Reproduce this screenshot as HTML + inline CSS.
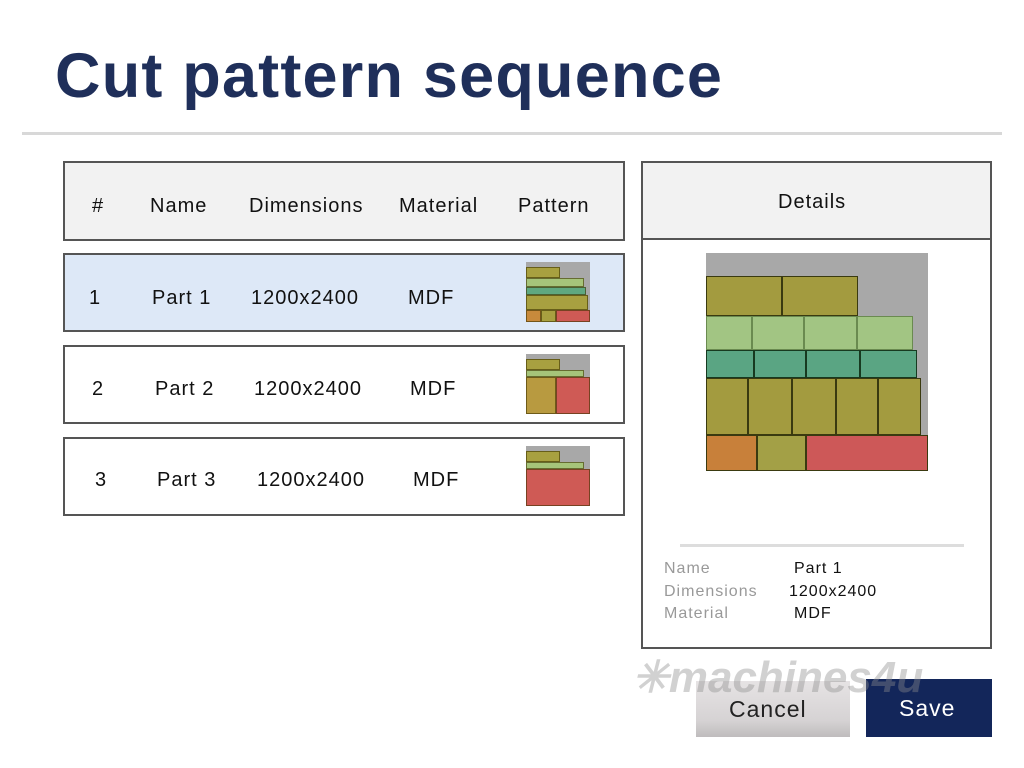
<!DOCTYPE html>
<html><head><meta charset="utf-8"><style>
*{margin:0;padding:0;box-sizing:border-box}
body{width:1024px;height:768px;background:#fff;position:relative;overflow:hidden;font-family:"Liberation Sans",Arial,sans-serif;color:#111}
.a{position:absolute}
.t{position:absolute;font-size:20px;letter-spacing:1px;white-space:nowrap;line-height:1}
.box{position:absolute;border:2px solid #555}
.th{position:absolute;background:#a8a8a8;overflow:hidden}
.th div{position:absolute;border:1px solid rgba(60,50,0,.6)}
.p div{position:absolute;border:1.5px solid #3a3a10}
.lb{position:absolute;font-size:16px;letter-spacing:1px;color:#999;line-height:1}
.vl{position:absolute;font-size:16px;letter-spacing:1px;color:#111;line-height:1}
</style></head><body>
<div class="a" style="left:55px;top:45px;font-size:63px;font-weight:bold;color:#1f2f5a;line-height:1;letter-spacing:1.2px">Cut pattern sequence</div>
<div class="a" style="left:22px;top:132px;width:980px;height:3px;background:#d8d8d8"></div>

<div class="box" style="left:63px;top:161px;width:562px;height:80px;background:#f2f2f2"></div>
<div class="t" style="left:92px;top:196px">#</div>
<div class="t" style="left:150px;top:196px">Name</div>
<div class="t" style="left:249px;top:196px">Dimensions</div>
<div class="t" style="left:399px;top:196px">Material</div>
<div class="t" style="left:518px;top:196px">Pattern</div>

<div class="box" style="left:63px;top:253px;width:562px;height:79px;background:#dde8f7"></div>
<div class="t" style="left:89px;top:288px">1</div>
<div class="t" style="left:152px;top:288px">Part 1</div>
<div class="t" style="left:251px;top:288px">1200x2400</div>
<div class="t" style="left:408px;top:288px">MDF</div>

<div class="box" style="left:63px;top:345px;width:562px;height:79px;background:#fff"></div>
<div class="t" style="left:92px;top:379px">2</div>
<div class="t" style="left:155px;top:379px">Part 2</div>
<div class="t" style="left:254px;top:379px">1200x2400</div>
<div class="t" style="left:410px;top:379px">MDF</div>

<div class="box" style="left:63px;top:437px;width:562px;height:79px;background:#fff"></div>
<div class="t" style="left:95px;top:470px">3</div>
<div class="t" style="left:157px;top:470px">Part 3</div>
<div class="t" style="left:257px;top:470px">1200x2400</div>
<div class="t" style="left:413px;top:470px">MDF</div>

<!-- thumbnails -->
<div class="th" style="left:526px;top:262px;width:64px;height:60px">
<div style="left:0;top:5px;width:34px;height:11px;background:#a8a040"></div>
<div style="left:0;top:16px;width:58px;height:9px;background:#a6c47a"></div>
<div style="left:0;top:25px;width:60px;height:8px;background:#5fa880"></div>
<div style="left:0;top:33px;width:62px;height:15px;background:#a8a040"></div>
<div style="left:0;top:48px;width:15px;height:12px;background:#c88a3c"></div>
<div style="left:15px;top:48px;width:15px;height:12px;background:#a8a040"></div>
<div style="left:30px;top:48px;width:34px;height:12px;background:#cf5a55"></div>
</div>
<div class="th" style="left:526px;top:354px;width:64px;height:60px">
<div style="left:0;top:5px;width:34px;height:11px;background:#a8a040"></div>
<div style="left:0;top:16px;width:58px;height:7px;background:#a6c47a"></div>
<div style="left:0;top:23px;width:30px;height:37px;background:#b89a40"></div>
<div style="left:30px;top:23px;width:34px;height:37px;background:#cf5a55"></div>
</div>
<div class="th" style="left:526px;top:446px;width:64px;height:60px">
<div style="left:0;top:5px;width:34px;height:11px;background:#a8a040"></div>
<div style="left:0;top:16px;width:58px;height:7px;background:#a6c47a"></div>
<div style="left:0;top:23px;width:64px;height:37px;background:#cf5a55"></div>
</div>

<!-- details -->
<div class="box" style="left:641px;top:161px;width:351px;height:488px;background:#fff"></div>
<div class="a" style="left:643px;top:163px;width:347px;height:77px;background:#f2f2f2;border-bottom:2px solid #555"></div>
<div class="t" style="left:778px;top:192px">Details</div>

<div class="th p" style="left:706px;top:253px;width:222px;height:218px">
<div style="left:0;top:23px;width:76px;height:40px;background:#a39b3f"></div>
<div style="left:76px;top:23px;width:76px;height:40px;background:#a39b3f"></div>
<div style="left:0;top:63px;width:46px;height:34px;background:#a2c583;border-color:#6a8a50"></div>
<div style="left:46px;top:63px;width:52px;height:34px;background:#a2c583;border-color:#6a8a50"></div>
<div style="left:98px;top:63px;width:53px;height:34px;background:#a2c583;border-color:#6a8a50"></div>
<div style="left:151px;top:63px;width:56px;height:34px;background:#a2c583;border-color:#6a8a50"></div>
<div style="left:0;top:97px;width:48px;height:28px;background:#5aa583;border-color:#173a20"></div>
<div style="left:48px;top:97px;width:52px;height:28px;background:#5aa583;border-color:#173a20"></div>
<div style="left:100px;top:97px;width:54px;height:28px;background:#5aa583;border-color:#173a20"></div>
<div style="left:154px;top:97px;width:57px;height:28px;background:#5aa583;border-color:#173a20"></div>
<div style="left:0;top:125px;width:42px;height:57px;background:#a39b3f"></div>
<div style="left:42px;top:125px;width:44px;height:57px;background:#a39b3f"></div>
<div style="left:86px;top:125px;width:44px;height:57px;background:#a39b3f"></div>
<div style="left:130px;top:125px;width:42px;height:57px;background:#a39b3f"></div>
<div style="left:172px;top:125px;width:43px;height:57px;background:#a39b3f"></div>
<div style="left:0;top:182px;width:51px;height:36px;background:#c8803a"></div>
<div style="left:51px;top:182px;width:49px;height:36px;background:#a3a046"></div>
<div style="left:100px;top:182px;width:122px;height:36px;background:#cd5858"></div>
</div>

<div class="a" style="left:680px;top:544px;width:284px;height:3px;background:#ddd"></div>
<div class="lb" style="left:664px;top:561px">Name</div>
<div class="lb" style="left:664px;top:584px">Dimensions</div>
<div class="lb" style="left:664px;top:606px">Material</div>
<div class="vl" style="left:794px;top:561px">Part 1</div>
<div class="vl" style="left:789px;top:584px">1200x2400</div>
<div class="vl" style="left:794px;top:606px">MDF</div>

<!-- buttons -->
<div class="a" style="left:696px;top:681px;width:154px;height:56px;background:linear-gradient(#e6e3e4,#d6d3d4 70%,#bfbcbd);"></div>
<div class="a" style="left:729px;top:696px;font-size:23px;letter-spacing:1px;color:#222">Cancel</div>
<div class="a" style="left:866px;top:679px;width:126px;height:58px;background:#13265a"></div>
<div class="a" style="left:899px;top:695px;font-size:23px;letter-spacing:1px;color:#fff">Save</div>
<!-- watermark -->
<div class="a" style="left:632px;top:656px;font-size:44px;font-weight:bold;font-style:italic;color:rgba(140,140,140,.4);line-height:1">✳machines4u</div>
</body></html>
